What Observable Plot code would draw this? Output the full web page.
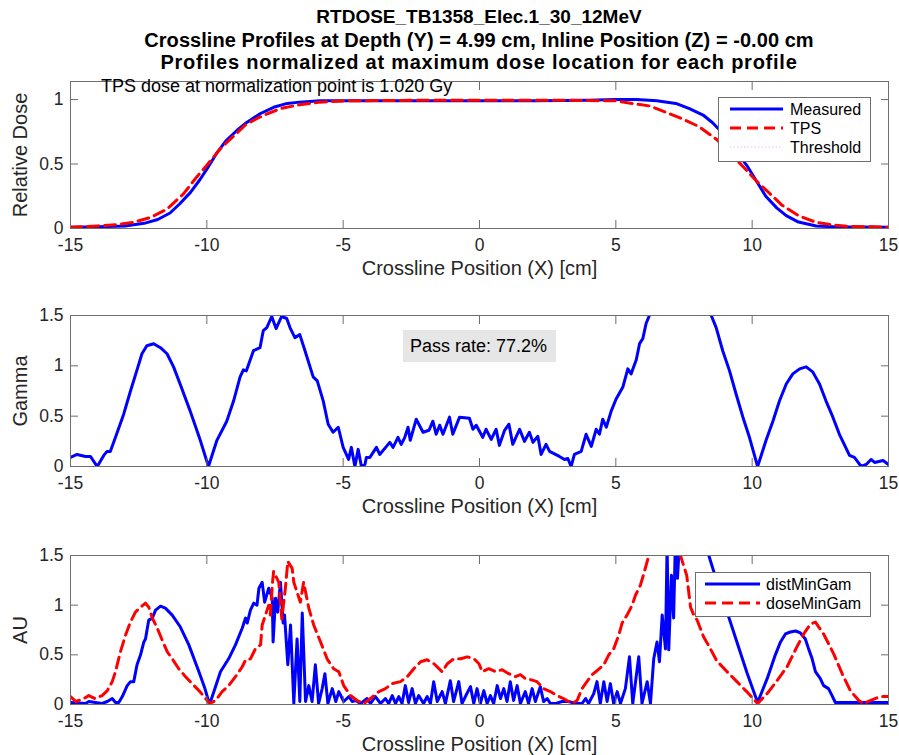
<!DOCTYPE html>
<html>
<head>
<meta charset="utf-8">
<script src="https://cdn.jsdelivr.net/npm/d3@7"></script>
<script src="https://cdn.jsdelivr.net/npm/@observablehq/plot@0.6"></script>
<style>
  body { margin: 0; background: #fff; }
  #wrap { position: relative; width: 899px; height: 755px; overflow: hidden;
          font-family: "Liberation Sans", Arial, Helvetica, sans-serif; color: #000; background: #fff; }
  .abs { position: absolute; }
  .title { left: 70px; width: 818px; top: 6px; text-align: center; font-weight: bold;
           line-height: 22.5px; color: #000; white-space: nowrap; }
  .note { left: 101px; top: 77px; font-size: 18px; line-height: 18px; white-space: nowrap; }
  .pass { left: 403px; top: 330px; width: 153px; height: 32px; background: #e6e6e6;
          font-size: 18px; line-height: 32px; box-sizing: border-box; padding-left: 7px; white-space: nowrap; }
  svg.leg { position: absolute; overflow: visible; }
</style>
</head>
<body>
<div id="wrap">
  <div class="abs title" id="title"></div>
</div>
<script>
// ---------------- data ----------------
const titleLines = [
  "RTDOSE_TB1358_Elec.1_30_12MeV",
  "Crossline Profiles at Depth (Y) = 4.99 cm, Inline Position (Z) = -0.00 cm",
  "Profiles normalized at maximum dose location for each profile"
];
const xTicks = [-15, -10, -5, 0, 5, 10, 15];
const doseTicks = [0, 0.5, 1];
const gammaTicks = [0, 0.5, 1, 1.5];
const xLabel = "Crossline Position (X) [cm]";
const noteText = "TPS dose at normalization point is 1.020 Gy";
const passText = "Pass rate: 77.2%";
const legend1 = ["Measured", "TPS", "Threshold"];
const legend3 = ["distMinGam", "doseMinGam"];

// Top panel: relative dose profiles [x, dose]
const measured = [[-15,0.01],[-14,0.013],[-13,0.02],[-12.3,0.04],[-11.8,0.07],[-11.35,0.12],[-11,0.19],[-10.6,0.28],[-10.25,0.38],[-10,0.46],[-9.65,0.58],[-9.3,0.68],[-8.9,0.76],[-8.55,0.82],[-8.05,0.89],[-7.55,0.94],[-7.05,0.97],[-6.6,0.98],[-5.85,0.99],[-4,0.99],[-2,0.99],[0,0.99],[2,0.99],[4,0.995],[5,1.0],[5.75,1.0],[6.5,0.99],[7.2,0.97],[7.7,0.93],[8.2,0.88],[8.55,0.82],[9.05,0.71],[9.4,0.6],[9.8,0.49],[10.15,0.37],[10.5,0.25],[10.9,0.16],[11.25,0.1],[11.7,0.05],[12.35,0.02],[13,0.013],[15,0.01]];
const tps = [[-15,0.01],[-14,0.02],[-13.3,0.03],[-12.7,0.047],[-12.07,0.085],[-11.46,0.15],[-10.85,0.27],[-10.37,0.4],[-10,0.49],[-9.5,0.62],[-9,0.72],[-8.55,0.81],[-7.95,0.875],[-7.3,0.93],[-6.6,0.96],[-5.85,0.98],[-4.9,0.99],[-2,0.995],[0,0.995],[3,0.995],[5,0.99],[5.6,0.97],[6.25,0.95],[6.85,0.9],[7.45,0.85],[8.05,0.79],[8.7,0.69],[9.3,0.56],[9.8,0.45],[10.15,0.37],[10.65,0.27],[11.1,0.18],[11.7,0.1],[12.35,0.047],[13,0.026],[13.6,0.016],[15,0.01]];

// Middle panel: gamma [x, gamma]
const gamma = [[-15,0.09],[-14.76,0.12],[-14.45,0.1],[-14.27,0.1],[-14.02,0.0],[-13.78,0.11],[-13.66,0.15],[-13.54,0.15],[-13.35,0.29],[-13.05,0.52],[-12.8,0.75],[-12.56,0.96],[-12.38,1.12],[-12.2,1.2],[-11.95,1.22],[-11.7,1.18],[-11.46,1.12],[-11.22,0.99],[-10.98,0.82],[-10.61,0.55],[-10.24,0.26],[-9.94,0.0],[-9.63,0.26],[-9.27,0.45],[-9.02,0.65],[-8.78,0.89],[-8.66,0.96],[-8.55,0.95],[-8.29,1.15],[-8.05,1.18],[-7.93,1.35],[-7.8,1.38],[-7.62,1.49],[-7.46,1.37],[-7.26,1.49],[-7.07,1.47],[-6.95,1.38],[-6.77,1.28],[-6.59,1.31],[-6.4,1.15],[-6.1,0.89],[-5.95,0.85],[-5.73,0.65],[-5.55,0.42],[-5.37,0.34],[-5.18,0.39],[-5.0,0.19],[-4.8,0.07],[-4.7,0.19],[-4.57,0],[-4.45,0.17],[-4.33,0],[-4.2,0.02],[-4.15,0.09],[-4.02,0.09],[-3.78,0.19],[-3.66,0.12],[-3.29,0.24],[-3.17,0.19],[-2.99,0.29],[-2.87,0.22],[-2.74,0.29],[-2.62,0.39],[-2.54,0.26],[-2.32,0.47],[-2.07,0.34],[-1.85,0.36],[-1.71,0.45],[-1.59,0.32],[-1.46,0.41],[-1.34,0.32],[-1.1,0.49],[-0.98,0.32],[-0.73,0.49],[-0.37,0.48],[-0.24,0.37],[-0.12,0.41],[0.12,0.29],[0.24,0.37],[0.43,0.27],[0.61,0.37],[0.73,0.21],[0.92,0.36],[1.08,0.42],[1.22,0.22],[1.47,0.37],[1.65,0.25],[1.83,0.34],[1.96,0.24],[2.14,0.3],[2.26,0.12],[2.44,0.22],[2.57,0.15],[2.93,0.1],[3.12,0.07],[3.24,0.08],[3.36,0],[3.48,0.12],[3.73,0.15],[3.91,0.32],[4.1,0.2],[4.28,0.37],[4.4,0.32],[4.52,0.47],[4.65,0.39],[4.83,0.55],[5.01,0.67],[5.26,0.79],[5.44,0.97],[5.56,0.92],[5.75,1.06],[5.87,1.22],[5.99,1.27],[6.11,1.42],[6.23,1.5],[6.5,1.85],[7,2.3],[7.5,2.4],[8,2.1],[8.5,1.5],[8.68,1.38],[8.92,1.15],[9.17,0.95],[9.41,0.72],[9.66,0.49],[9.9,0.29],[10.2,0],[10.51,0.26],[10.76,0.45],[11,0.65],[11.25,0.82],[11.49,0.92],[11.74,0.97],[11.98,0.99],[12.22,0.94],[12.47,0.82],[12.71,0.65],[12.96,0.49],[13.2,0.32],[13.57,0.11],[13.75,0.09],[14,0],[14.18,0.02],[14.36,0.07],[14.49,0.04],[14.8,0.06],[15,0.02]];

// Bottom panel: distance and dose components [x, AU]
const distMinGam = [[-15,0.02],[-14.45,0.01],[-14.33,0.03],[-13.84,0.01],[-13.65,0.03],[-13.47,0.06],[-13.35,0.02],[-13.23,0.02],[-13.1,0.08],[-12.92,0.19],[-12.8,0.23],[-12.68,0.23],[-12.56,0.4],[-12.43,0.5],[-12.31,0.63],[-12.25,0.66],[-12.13,0.85],[-12,0.87],[-11.88,0.95],[-11.7,0.99],[-11.52,0.97],[-11.27,0.9],[-10.97,0.78],[-10.66,0.6],[-10.29,0.33],[-10.07,0.16],[-9.9,0],[-9.74,0.13],[-9.5,0.33],[-9.2,0.46],[-8.95,0.6],[-8.7,0.77],[-8.58,0.87],[-8.52,0.82],[-8.4,0.95],[-8.28,1.02],[-8.16,1.0],[-8.09,1.17],[-7.97,1.23],[-7.88,1.03],[-7.73,1.17],[-7.6,1.07],[-7.57,0.63],[-7.48,1.07],[-7.4,0.93],[-7.3,1.23],[-7.2,0.82],[-7.15,0.9],[-7.03,0.4],[-6.93,0.8],[-6.81,0.01],[-6.69,0.66],[-6.59,0.03],[-6.5,0.92],[-6.38,0.03],[-6.26,0.19],[-6.14,0.03],[-6.02,0.4],[-5.9,0.01],[-5.77,0.16],[-5.67,0.31],[-5.56,0.01],[-5.4,0.16],[-5.27,0.03],[-5.16,0.13],[-4.98,0.03],[-4.79,0.08],[-4.67,0.03],[-4.55,0.04],[-4.36,0.01],[-4.12,0.06],[-4.0,0.01],[-3.82,0.08],[-3.63,0.01],[-3.45,0.06],[-3.33,0.01],[-3.2,0.09],[-3.08,0.01],[-2.96,0.08],[-2.84,0.01],[-2.72,0.19],[-2.6,0.02],[-2.47,0.16],[-2.35,0.01],[-2.23,0.09],[-2.05,0.01],[-1.92,0.08],[-1.8,0.01],[-1.68,0.23],[-1.55,0.03],[-1.37,0.13],[-1.25,0.01],[-1.07,0.24],[-0.95,0.03],[-0.76,0.23],[-0.64,0.01],[-0.5,0.09],[-0.33,0.18],[-0.21,0.01],[-0.09,0.16],[0.03,0.01],[0.16,0.14],[0.28,0.01],[0.4,0.09],[0.52,0.01],[0.65,0.19],[0.77,0.06],[0.89,0.16],[1.01,0.03],[1.13,0.23],[1.25,0.04],[1.38,0.19],[1.5,0.01],[1.68,0.13],[1.8,0.01],[1.93,0.16],[2.05,0.03],[2.23,0.18],[2.35,0.03],[2.48,0.06],[2.6,0.01],[2.8,0.01],[3.03,0.03],[3.27,0.03],[3.52,0.01],[3.76,0.01],[3.89,0.06],[4.0,0.01],[4.19,0.11],[4.31,0.23],[4.43,0.01],[4.56,0.23],[4.68,0.03],[4.8,0.21],[4.92,0.01],[5.05,0.13],[5.17,0.01],[5.35,0.16],[5.5,0.48],[5.62,0.01],[5.84,0.48],[5.96,0.01],[6.15,0.23],[6.27,0.01],[6.39,0.46],[6.51,0.63],[6.6,0.43],[6.7,0.9],[6.82,0.56],[6.88,1.6],[6.94,0.55],[7.04,1.3],[7.12,0.87],[7.18,1.6],[7.26,1.27],[7.35,1.7],[7.8,2.0],[8.1,1.8],[8.41,1.5],[8.59,1.34],[9.2,0.83],[9.81,0.32],[10.2,0.02],[10.55,0.26],[10.85,0.5],[11.04,0.63],[11.22,0.71],[11.4,0.73],[11.59,0.74],[11.77,0.72],[11.95,0.66],[12.07,0.56],[12.2,0.46],[12.32,0.33],[12.5,0.26],[12.62,0.19],[12.8,0.16],[12.93,0.09],[13.05,0.02],[13.48,0.02],[14.1,0.02],[15,0.02]];
const doseMinGam = [[-15,0.08],[-14.8,0.03],[-14.51,0.06],[-14.33,0.09],[-14.1,0.06],[-13.84,0.09],[-13.65,0.14],[-13.47,0.23],[-13.35,0.33],[-13.17,0.53],[-12.98,0.7],[-12.8,0.83],[-12.62,0.93],[-12.43,0.98],[-12.25,1.02],[-12.13,0.98],[-12.0,0.87],[-11.82,0.77],[-11.64,0.65],[-11.45,0.53],[-11.27,0.46],[-11.03,0.36],[-10.78,0.28],[-10.54,0.21],[-10.29,0.14],[-10.1,0.08],[-9.9,0.01],[-9.68,0.04],[-9.44,0.13],[-9.2,0.19],[-8.95,0.28],[-8.7,0.38],[-8.58,0.45],[-8.4,0.46],[-8.22,0.56],[-8.03,0.6],[-7.97,0.8],[-7.85,0.9],[-7.73,1.0],[-7.67,0.9],[-7.6,1.2],[-7.55,1.34],[-7.36,1.23],[-7.25,0.86],[-7.12,1.17],[-7.03,1.44],[-6.87,1.37],[-6.81,1.23],[-6.69,1.13],[-6.57,1.03],[-6.45,1.23],[-6.26,0.97],[-6.08,0.8],[-5.83,0.63],[-5.59,0.46],[-5.35,0.36],[-5.16,0.33],[-4.98,0.19],[-4.73,0.09],[-4.49,0.04],[-4.24,0.01],[-4.0,0.06],[-3.69,0.13],[-3.45,0.16],[-3.2,0.21],[-2.9,0.23],[-2.65,0.28],[-2.41,0.36],[-2.16,0.43],[-1.92,0.45],[-1.67,0.41],[-1.37,0.33],[-1.18,0.41],[-0.94,0.46],[-0.69,0.46],[-0.45,0.48],[-0.2,0.46],[-0.02,0.41],[0.1,0.33],[0.34,0.36],[0.59,0.33],[0.83,0.35],[1.07,0.31],[1.32,0.28],[1.5,0.3],[1.68,0.26],[1.87,0.25],[2.11,0.23],[2.35,0.16],[2.6,0.13],[2.84,0.09],[3.08,0.06],[3.39,0.01],[3.58,0.04],[3.76,0.16],[3.94,0.23],[4.13,0.3],[4.31,0.34],[4.56,0.4],[4.74,0.5],[4.92,0.56],[5.11,0.7],[5.23,0.82],[5.41,0.9],[5.6,1.0],[5.72,1.1],[5.9,1.2],[6.03,1.32],[6.21,1.5],[6.5,1.8],[7.0,1.9],[7.37,1.5],[7.6,1.3],[7.74,0.98],[7.86,0.9],[7.98,0.85],[8.22,0.68],[8.47,0.56],[8.7,0.44],[9.08,0.33],[9.44,0.23],[9.8,0.13],[10.2,0.01],[10.55,0.11],[10.91,0.24],[11.28,0.38],[11.64,0.58],[11.89,0.71],[12.14,0.81],[12.32,0.83],[12.62,0.71],[12.99,0.51],[13.3,0.31],[13.6,0.14],[13.91,0.04],[14.09,0.01],[14.33,0.04],[14.7,0.08],[15,0.08]];

// ---------------- styling ----------------
const AX = "#262626";
const BOX = "#6e6e6e";
const BLUE = "#0000ff";
const RED = "#ff0000";
const FONT = "'Liberation Sans', Arial, Helvetica, sans-serif";

function axesMarks(yTicks, yLabel) {
  return [
    Plot.frame({stroke: BOX, strokeWidth: 1}),
    Plot.axisX({anchor: "bottom", ticks: xTicks, tickSize: -8, fill: "none", stroke: BOX, label: null}),
    Plot.axisX({anchor: "top", ticks: xTicks, tickSize: -8, fill: "none", stroke: BOX, label: null}),
    Plot.axisX({anchor: "bottom", ticks: xTicks, tickSize: 0, tickPadding: 10, fontSize: 17.5, fill: AX, label: null, tickFormat: d => String(d)}),
    Plot.axisY({anchor: "left", ticks: yTicks, tickSize: -8, fill: "none", stroke: BOX, label: null}),
    Plot.axisY({anchor: "right", ticks: yTicks, tickSize: -8, fill: "none", stroke: BOX, label: null}),
    Plot.axisY({anchor: "left", ticks: yTicks, tickSize: 0, tickPadding: 7, fontSize: 17.5, fill: AX, label: null, tickFormat: d => String(d)}),
    Plot.text([xLabel], {text: d => d, frameAnchor: "bottom", dy: 40, fontSize: 20, fill: AX, textAnchor: "middle", lineAnchor: "middle"}),
    Plot.text([yLabel], {text: d => d, frameAnchor: "left", dx: -50, rotate: -90, fontSize: 20, fill: AX, textAnchor: "middle", lineAnchor: "middle"})
  ];
}

function panel({top, height, marginTop, marginBottom, yDomain, yTicks, yLabel, series}) {
  const p = Plot.plot({
    width: 899, height, marginLeft: 70, marginRight: 11, marginTop, marginBottom,
    style: {fontFamily: FONT, fontSize: "17px", color: AX, background: "transparent", overflow: "visible"},
    x: {domain: [-15, 15]},
    y: {domain: yDomain},
    marks: [
      ...series,
      ...axesMarks(yTicks, yLabel)
    ]
  });
  p.style.position = "absolute";
  p.style.left = "0px";
  p.style.top = top + "px";
  return p;
}

const lineOpts = (color, dashed) => ({
  x: d => d[0], y: d => d[1], stroke: color, strokeWidth: 3, clip: true,
  strokeLinejoin: "round", ...(dashed ? {strokeDasharray: "11,6"} : {})
});

const wrap = document.getElementById("wrap");
const titleSizes = [[19, 0], [20, 0.05], [20, 0.75]]; // font size, letter-spacing
document.getElementById("title").innerHTML = titleLines
  .map((t, i) => `<div style="font-size:${titleSizes[i][0]}px;letter-spacing:${titleSizes[i][1]}px">${t}</div>`).join("");

wrap.appendChild(panel({
  top: 70, height: 220, marginTop: 11, marginBottom: 62,
  yDomain: [0, 1.14], yTicks: doseTicks, yLabel: "Relative Dose",
  series: [Plot.line(measured, lineOpts(BLUE, false)), Plot.line(tps, lineOpts(RED, true))]
}));
wrap.appendChild(panel({
  top: 300, height: 225, marginTop: 15, marginBottom: 59,
  yDomain: [0, 1.5], yTicks: gammaTicks, yLabel: "Gamma",
  series: [Plot.line(gamma, lineOpts(BLUE, false))]
}));
wrap.appendChild(panel({
  top: 540, height: 215, marginTop: 15, marginBottom: 51,
  yDomain: [0, 1.5], yTicks: gammaTicks, yLabel: "AU",
  series: [Plot.line(distMinGam, lineOpts(BLUE, false)), Plot.line(doseMinGam, lineOpts(RED, true))]
}));

// annotation and pass-rate box
const note = document.createElement("div");
note.className = "abs note"; note.textContent = noteText; wrap.appendChild(note);
const pass = document.createElement("div");
pass.className = "abs pass"; pass.textContent = passText; wrap.appendChild(pass);

// legends
function legend(left, top, w, h, items, sx1, sx2, tx) {
  const ns = "http://www.w3.org/2000/svg";
  const svg = document.createElementNS(ns, "svg");
  svg.setAttribute("class", "leg");
  svg.setAttribute("width", w); svg.setAttribute("height", h);
  svg.style.left = left + "px"; svg.style.top = top + "px";
  const r = document.createElementNS(ns, "rect");
  r.setAttribute("x", 0.5); r.setAttribute("y", 0.5);
  r.setAttribute("width", w - 1); r.setAttribute("height", h - 1);
  r.setAttribute("fill", "#fff"); r.setAttribute("stroke", BOX); r.setAttribute("stroke-width", 1);
  svg.appendChild(r);
  items.forEach((it, i) => {
    const y = 12 + i * 19;
    const l = document.createElementNS(ns, "line");
    l.setAttribute("x1", sx1); l.setAttribute("x2", sx2); l.setAttribute("y1", y); l.setAttribute("y2", y);
    l.setAttribute("stroke", it.color); l.setAttribute("stroke-width", it.width);
    if (it.dash) l.setAttribute("stroke-dasharray", it.dash);
    svg.appendChild(l);
    const t = document.createElementNS(ns, "text");
    t.setAttribute("x", tx); t.setAttribute("y", y); t.setAttribute("dy", "0.35em");
    t.setAttribute("font-size", 16); t.setAttribute("font-family", FONT); t.setAttribute("fill", "#000");
    t.textContent = it.label;
    svg.appendChild(t);
  });
  wrap.appendChild(svg);
}
legend(718, 97, 153, 65, [
  {label: legend1[0], color: BLUE, width: 3},
  {label: legend1[1], color: RED, width: 3, dash: "11,6"},
  {label: legend1[2], color: "#efb8e8", width: 1, dash: "1.5,2"}
], 12, 65, 72);
legend(695, 572, 176, 45, [
  {label: legend3[0], color: BLUE, width: 3},
  {label: legend3[1], color: RED, width: 3, dash: "11,6"}
], 10, 65, 71);
</script>
</body>
</html>
